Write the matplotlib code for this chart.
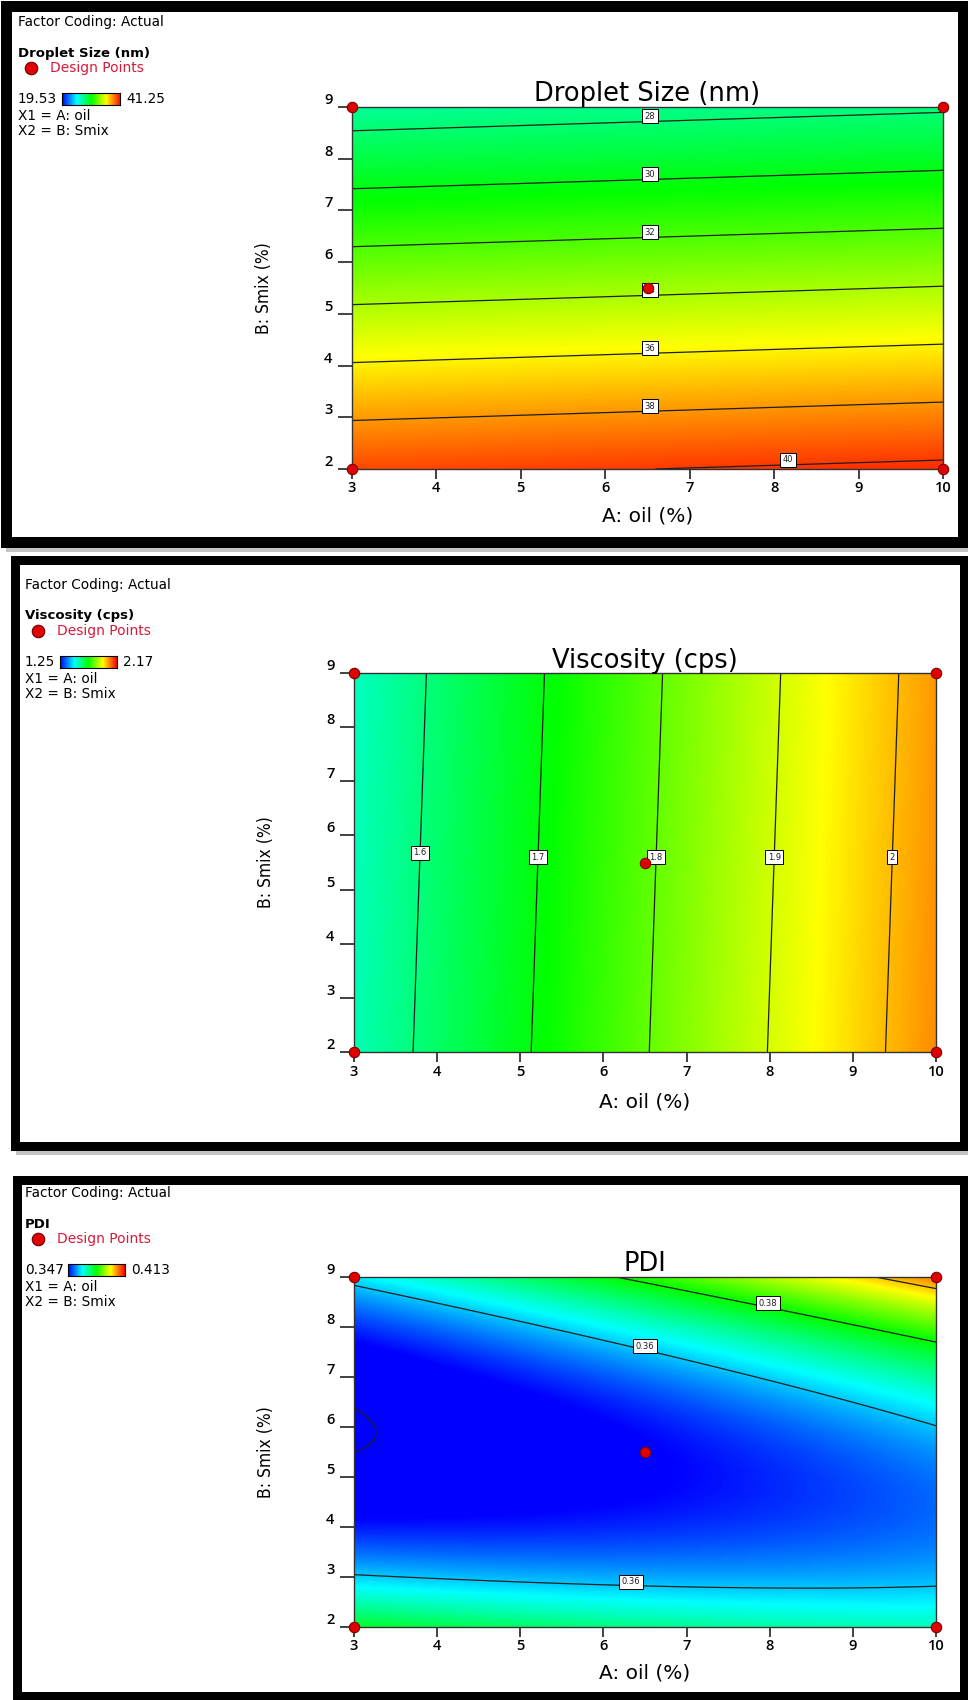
import numpy as np
import matplotlib
matplotlib.use("Agg")
import matplotlib.pyplot as plt
from matplotlib.colors import LinearSegmentedColormap
from matplotlib.patches import Rectangle
from matplotlib.lines import Line2D
from matplotlib import font_manager

# factor ranges / ticks
oil_range = [3, 10]
smix_range = [2, 9]
oil_ticks = [3, 4, 5, 6, 7, 8, 9, 10]
smix_ticks = [2, 3, 4, 5, 6, 7, 8, 9]

# design points (A: oil, B: Smix)
design_oil = [3, 3, 10, 10, 6.5]
design_smix = [2, 9, 2, 9, 5.5]

# model coefficients: b0, A, B, AB, A^2, B^2
droplet_coef = [42.97, 0.091, -1.785, 0.0, 0.0, 0.0]
viscosity_coef = [1.342, 0.0704, -0.00161, 0.0, 0.0, 0.0]
pdi_coef = [0.440413, -0.0052256, -0.032296, 0.0010633, 0.00013427, 0.00245]

# colour scale = observed response range
droplet_range = [19.53, 41.25]
viscosity_range = [1.25, 2.17]
pdi_range = [0.347, 0.413]

droplet_levels = [28, 30, 32, 34, 36, 38, 40]
viscosity_levels = [1.6, 1.7, 1.8, 1.9, 2.0]
pdi_levels = [0.34, 0.36, 0.38, 0.40]
pdi_labeled = [0.36, 0.38]

# where the contour labels sit (oil, smix)
droplet_label_pos = [(6.53, 8.7), (6.53, 7.6), (6.53, 6.48), (6.53, 5.37),
                     (6.53, 4.25), (6.53, 3.15), (8.16, 2.15)]
viscosity_label_pos = [(3.8, 5.68), (5.2, 5.6), (6.62, 5.6), (8.05, 5.6), (9.45, 5.6)]
pdi_label_pos = [(7.98, 8.4), (6.5, 7.55), (6.33, 2.84)]

W, H = 968, 1700
plt.rcParams['font.family'] = ['DejaVu Sans']

names = {f.name for f in font_manager.fontManager.ttflist}
if 'Liberation Sans Narrow' in names:
    narrow = dict(family='Liberation Sans Narrow')
else:
    narrow = dict(family='DejaVu Sans', fontstretch='condensed')
tickfont = 'Open Sans' if 'Open Sans' in names else 'DejaVu Sans'

cmap = LinearSegmentedColormap.from_list(
    'de', ['#0000ff', '#00ffff', '#00ff00', '#ffff00', '#ff0000'])

fig = plt.figure(figsize=(W / 100, H / 100), dpi=100)
fig.patch.set_facecolor('white')


def fx(x):
    return x / W


def fy(y):
    return 1 - y / H


def ftxt(x, y, s, **kw):
    fig.text(fx(x), fy(y), s, **kw)


def model(c, a, b):
    return c[0] + c[1] * a + c[2] * b + c[3] * a * b + c[4] * a * a + c[5] * b * b


def frame(x0, y0, x1, y1, t):
    # grey shadow under the box
    fig.add_artist(Rectangle((fx(x0 + 6), fy(y1 + 5)), (x1 - x0 - 6) / W, 6 / H,
                             fc='#c4c4c4', ec='none', transform=fig.transFigure))
    fig.add_artist(Rectangle((fx(x0 + t / 2), fy(y1 - t / 2)), (x1 - x0 - t) / W,
                             (y1 - y0 - t) / H, fill=False, ec='black',
                             lw=t * 0.72, joinstyle='miter', transform=fig.transFigure))


def key(bx, by, name, lo, hi, sw):
    ftxt(bx, by + 22, 'Factor Coding: Actual', fontsize=9.8, va='center')
    ftxt(bx, by + 53, name, fontsize=9.5, fontweight='bold', va='center')
    fig.add_artist(Line2D([fx(bx + 13)], [fy(by + 68)], marker='o', ms=9,
                          mfc='#e00000', mec='#6a0000', mew=0.8, transform=fig.transFigure))
    ftxt(bx + 32, by + 68, 'Design Points', fontsize=10, color='#d81b3c', va='center')
    ftxt(bx, by + 99, lo, fontsize=9.8, va='center')
    sax = fig.add_axes([fx(sw[0]), fy(by + 105), (sw[1] - sw[0]) / W, 12 / H])
    sax.imshow(np.linspace(0, 1, 256)[None, :], aspect='auto', cmap=cmap)
    sax.set_xticks([])
    sax.set_yticks([])
    for s in sax.spines.values():
        s.set_linewidth(0.8)
    ftxt(sw[1] + 6, by + 99, hi, fontsize=9.8, va='center')
    ftxt(bx, by + 116, 'X1 = A: oil', fontsize=9.8, va='center')
    ftxt(bx, by + 131, 'X2 = B: Smix', fontsize=9.8, va='center')


panels = [
    dict(title='Droplet Size (nm)', coef=droplet_coef, rng=droplet_range,
         levels=droplet_levels, labeled=droplet_levels, lpos=droplet_label_pos, loff=0.1,
         ax_px=(352, 107, 943, 469), frame=(0, 0, 968, 547, 11),
         key=(18, 0, ('19.53', '41.25'), (62, 120)), title_y=94, xl_y=516, yl_x=264),
    dict(title='Viscosity (cps)', coef=viscosity_coef, rng=viscosity_range,
         levels=viscosity_levels, labeled=viscosity_levels, lpos=viscosity_label_pos, loff=0.0,
         ax_px=(354, 673, 936, 1052), frame=(10, 555, 968, 1150, 9),
         key=(25, 563, ('1.25', '2.17'), (60, 117)), title_y=661, xl_y=1102, yl_x=266),
    dict(title='PDI', coef=pdi_coef, rng=pdi_range,
         levels=pdi_levels, labeled=pdi_labeled, lpos=pdi_label_pos, loff=0.08,
         ax_px=(354, 1277, 936, 1627), frame=(12, 1175, 968, 1700, 9),
         key=(25, 1171, ('0.347', '0.413'), (68, 125)), title_y=1264, xl_y=1673, yl_x=266),
]

a = np.linspace(oil_range[0], oil_range[1], 400)
b = np.linspace(smix_range[0], smix_range[1], 400)
AA, BB = np.meshgrid(a, b)

for p in panels:
    frame(*p['frame'])
    x0, y0, x1, y1 = p['ax_px']
    ax = fig.add_axes([fx(x0), fy(y1), (x1 - x0) / W, (y1 - y0) / H])
    Z = model(p['coef'], AA, BB)
    ax.imshow(Z, origin='lower', extent=[3, 10, 2, 9], aspect='auto', cmap=cmap,
              vmin=p['rng'][0], vmax=p['rng'][1], interpolation='bilinear')
    plain = [v for v in p['levels'] if v not in p['labeled']]
    if plain:
        ax.contour(AA, BB, Z, levels=plain, colors='#1e1e1e', linewidths=0.9)
    cs = ax.contour(AA, BB, Z, levels=p['labeled'], colors='#1e1e1e', linewidths=0.9)
    labs = ax.clabel(cs, manual=p['lpos'], inline=False, fontsize=6,
                     fmt=lambda v: f'{v:g}')
    for t in labs:
        t.set_rotation(0)
        tx, ty = t.get_position()
        t.set_position((tx, ty + p['loff']))
        t.set_bbox(dict(boxstyle='square,pad=0.3', fc='white', ec='black', lw=0.7))
        t.set_zorder(5)
    ax.plot(design_oil, design_smix, 'o', ms=7.5, mfc='#e00000', mec='#7a0000',
            mew=0.8, clip_on=False, zorder=6)
    ax.set_xlim(oil_range)
    ax.set_ylim(smix_range)
    ax.set_xticks(oil_ticks)
    ax.set_yticks(smix_ticks)
    ax.tick_params(axis='x', direction='out', length=7, width=1.3, pad=2,
                   labelsize=10.5, color='#333333', labelfontfamily=tickfont)
    ax.tick_params(axis='y', direction='out', length=10, width=1.3, pad=4,
                   labelsize=10.5, color='#333333', labelfontfamily=tickfont)
    plt.setp(ax.get_yticklabels(), va='bottom')
    plt.setp(ax.get_xticklabels() + ax.get_yticklabels(), fontweight='semibold')
    for s in ax.spines.values():
        s.set_linewidth(1.0)
        s.set_color('#333333')
    cx = (x0 + x1) / 2
    ftxt(cx, p['title_y'], p['title'], fontsize=18.5, ha='center', va='center')
    ftxt(cx, p['xl_y'], 'A: oil (%)', fontsize=14.5, ha='center', va='center')
    ftxt(p['yl_x'], (y0 + y1) / 2, 'B: Smix (%)', fontsize=12.5, rotation=90,
         ha='center', va='center', **narrow)
    kx, ky, (lo, hi), sw = p['key']
    key(kx, ky, p['title'], lo, hi, sw)

fig.savefig('out.png', dpi=100)
